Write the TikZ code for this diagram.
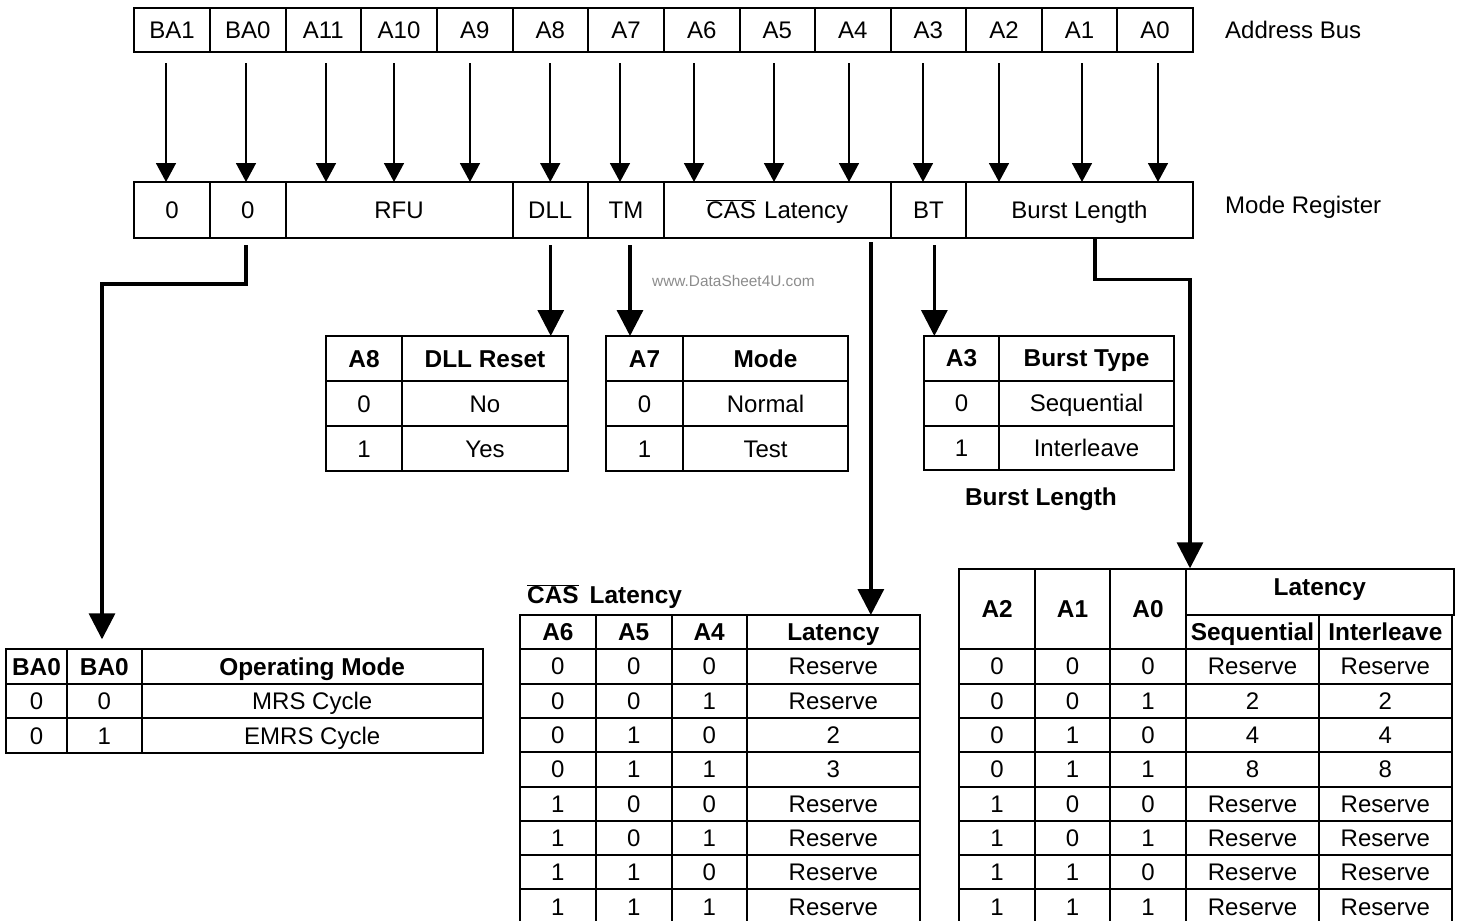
\documentclass[tikz,border=0pt]{standalone}
\usepackage{fontspec}
\setmainfont{Liberation Sans}
\usetikzlibrary{arrows.meta,calc}
\definecolor{wm}{RGB}{140,140,140}
\newcommand\mycell[7][]{\node[tcell,#1,minimum width={#4-#2},minimum height={#5-#3}] (#7) at ({(#2+#4)/2},{(#3+#5)/2}) {#6};}
\tikzset{
  tcell/.style={draw, line width=2pt, inner sep=0pt, outer sep=0pt, text height=17pt, text depth=0pt, font=\fontsize{24}{28}\selectfont},
  hcell/.style={font=\fontsize{24.4}{28}\selectfont\bfseries},
  tarrow/.style={line width=1.6pt, -{Triangle[width=20pt,length=19pt]}},
  karrow/.style={line width=3.3pt, -{Triangle[width=26pt,length=26pt]}},
  lbl/.style={inner sep=0pt, text height=17pt, text depth=0pt, font=\fontsize{24}{28}\selectfont},
}
\begin{document}
\begin{tikzpicture}[x=1pt,y=-1pt]
\useasboundingbox (0,0) rectangle (1462,921);
% address bus
\foreach \i/\xa/\xb/\t in {0/134/210/BA1, 1/210/285.5/BA0, 2/285.5/361/A11, 3/361/437/A10, 4/437/512.5/A9, 5/512.5/588/A8, 6/588/664/A7, 7/664/739.5/A6, 8/739.5/815/A5, 9/815/890.7/A4, 10/890.7/966/A3, 11/966/1042/A2, 12/1042/1117/A1, 13/1117/1193/A0}
  {\mycell{\xa}{8}{\xb}{52}{\t}{b\i}}
\node[lbl, anchor=west] (abus) at (1225,30) {Address Bus};
% mode register
\mycell{134}{182}{210}{238}{0}{r0}
\mycell{210}{182}{285.5}{238}{0}{r1}
\mycell{285.5}{182}{512.5}{238}{RFU}{r2}
\mycell{512.5}{182}{588}{238}{DLL}{r3}
\mycell{588}{182}{664}{238}{TM}{r4}
\mycell{664}{182}{890.7}{238}{$\overline{\mbox{CAS}}$\hspace{0.35em}Latency}{r5}
\mycell{890.7}{182}{966}{238}{BT}{r6}
\mycell{966}{182}{1193}{238}{Burst Length}{r7}
\node[lbl, anchor=west] (mreg) at (1225,205) {Mode Register};
% bus arrows
\foreach \i/\dx in {0/-6, 1/-1.75, 2/2.75, 3/-5, 4/-4.75, 5/0, 6/-6, 7/-7.75, 8/-3.25, 9/-3.85, 10/-5.35, 11/-5, 12/2.5, 13/3}
  {\coordinate (s\i) at ($(b\i.south)+(\dx,11)$);
   \draw[tarrow] (s\i) -- (s\i |- r0.north);}
% watermark
\node[inner sep=0pt, font=\fontsize{15.4}{18}\selectfont, text=wm] (wmk) at (733.5,281) {www.DataSheet4U.com};
% BA0 table
\mycell[hcell]{6}{649.3}{67}{684.3}{BA0}{o0}
\mycell[hcell]{67}{649.3}{141.7}{684.3}{BA0}{o1}
\mycell[hcell]{141.7}{649.3}{482.7}{684.3}{Operating Mode}{o2}
\mycell{6}{684.3}{67}{718.3}{0}{o3}
\mycell{67}{684.3}{141.7}{718.3}{0}{o4}
\mycell{141.7}{684.3}{482.7}{718.3}{MRS Cycle}{o5}
\mycell{6}{718.3}{67}{752.7}{0}{o6}
\mycell{67}{718.3}{141.7}{752.7}{1}{o7}
\mycell{141.7}{718.3}{482.7}{752.7}{EMRS Cycle}{o8}
% DLL table
\mycell[hcell]{326}{336}{402}{381}{A8}{d0}
\mycell[hcell]{402}{336}{568}{381}{DLL Reset}{d1}
\mycell{326}{381}{402}{426}{0}{d2}
\mycell{402}{381}{568}{426}{No}{d3}
\mycell{326}{426}{402}{471}{1}{d4}
\mycell{402}{426}{568}{471}{Yes}{d5}
% Mode table
\mycell[hcell]{606}{336}{683}{381}{A7}{m0}
\mycell[hcell]{683}{336}{848}{381}{Mode}{m1}
\mycell{606}{381}{683}{426}{0}{m2}
\mycell{683}{381}{848}{426}{Normal}{m3}
\mycell{606}{426}{683}{471}{1}{m4}
\mycell{683}{426}{848}{471}{Test}{m5}
% Burst type table
\mycell[hcell]{924}{336}{999}{380.7}{A3}{t0}
\mycell[hcell]{999}{336}{1174}{380.7}{Burst Type}{t1}
\mycell{924}{380.7}{999}{425.7}{0}{t2}
\mycell{999}{380.7}{1174}{425.7}{Sequential}{t3}
\mycell{924}{425.7}{999}{470}{1}{t4}
\mycell{999}{425.7}{1174}{470}{Interleave}{t5}
\node[lbl, font=\fontsize{24.4}{28}\selectfont\bfseries] (bltitle) at (1041,497) {Burst Length};
% CAS latency table
\node[lbl, font=\fontsize{24.4}{28}\selectfont\bfseries, anchor=west] (castitle) at (527,595) {$\overline{\mbox{CAS}}$\hspace{0.45em}Latency};
\mycell[hcell]{520}{615}{595.7}{649.3}{A6}{l0}
\mycell[hcell]{595.7}{615}{671.7}{649.3}{A5}{l1}
\mycell[hcell]{671.7}{615}{746.7}{649.3}{A4}{l2}
\mycell[hcell]{746.7}{615}{920}{649.3}{Latency}{l3}
\foreach \r/\a/\b/\c/\v in {0/0/0/0/Reserve, 1/0/0/1/Reserve, 2/0/1/0/2, 3/0/1/1/3, 4/1/0/0/Reserve, 5/1/0/1/Reserve, 6/1/1/0/Reserve, 7/1/1/1/Reserve}{
  \pgfmathsetmacro\ya{649.3+34.3*\r}
  \pgfmathsetmacro\yb{\ya+34.3}
  \mycell{520}{\ya}{595.7}{\yb}{\a}{ca\r}
  \mycell{595.7}{\ya}{671.7}{\yb}{\b}{cb\r}
  \mycell{671.7}{\ya}{746.7}{\yb}{\c}{cc\r}
  \mycell{746.7}{\ya}{920}{\yb}{\v}{cd\r}
}
% Burst length table
\mycell[hcell]{959.3}{569.3}{1035}{649.3}{A2}{q0}
\mycell[hcell]{1035}{569.3}{1110}{649.3}{A1}{q1}
\mycell[hcell]{1110}{569.3}{1186}{649.3}{A0}{q2}
\mycell[hcell,text depth=10pt]{1186}{569.3}{1453.5}{615}{Latency}{q3}
\mycell[hcell]{1186}{615}{1319}{649.3}{Sequential}{q4}
\mycell[hcell]{1319}{615}{1451.7}{649.3}{Interleave}{q5}
\foreach \r/\a/\b/\c/\v in {0/0/0/0/Reserve, 1/0/0/1/2, 2/0/1/0/4, 3/0/1/1/8, 4/1/0/0/Reserve, 5/1/0/1/Reserve, 6/1/1/0/Reserve, 7/1/1/1/Reserve}{
  \pgfmathsetmacro\ya{649.3+34.3*\r}
  \pgfmathsetmacro\yb{\ya+34.3}
  \mycell{959.3}{\ya}{1035}{\yb}{\a}{pa\r}
  \mycell{1035}{\ya}{1110}{\yb}{\b}{pb\r}
  \mycell{1110}{\ya}{1186}{\yb}{\c}{pc\r}
  \mycell{1186}{\ya}{1319}{\yb}{\v}{pd\r}
  \mycell{1319}{\ya}{1451.7}{\yb}{\v}{pe\r}
}
% connectors from the mode register
\coordinate (c1) at ($(r1.south)+(-1.75,7)$);
\draw[karrow] (c1) -- ++(0,39) -| ($(o1.north)+(-2.35,-10)$);
\coordinate (c2) at ($(r3.south)+(0.5,7)$);
\draw[karrow] (c2) -- (c2 |- d1.north);
\coordinate (c3) at ($(r4.south)+(4,7)$);
\draw[karrow] (c3) -- (c3 |- m0.north);
\coordinate (c4) at ($(r5.south)+(93.5,4)$);
\draw[karrow] (c4) -- (c4 |- l3.north);
\coordinate (c5) at ($(r6.south)+(6,7)$);
\draw[karrow] (c5) -- (c5 |- t0.north);
\coordinate (c6) at ($(r7.south)+(15.5,0)$);
\draw[karrow] (c6) -- ++(0,41.5) -| ($(q3.north west)+(4,-1)$);
\end{tikzpicture}
\end{document}
